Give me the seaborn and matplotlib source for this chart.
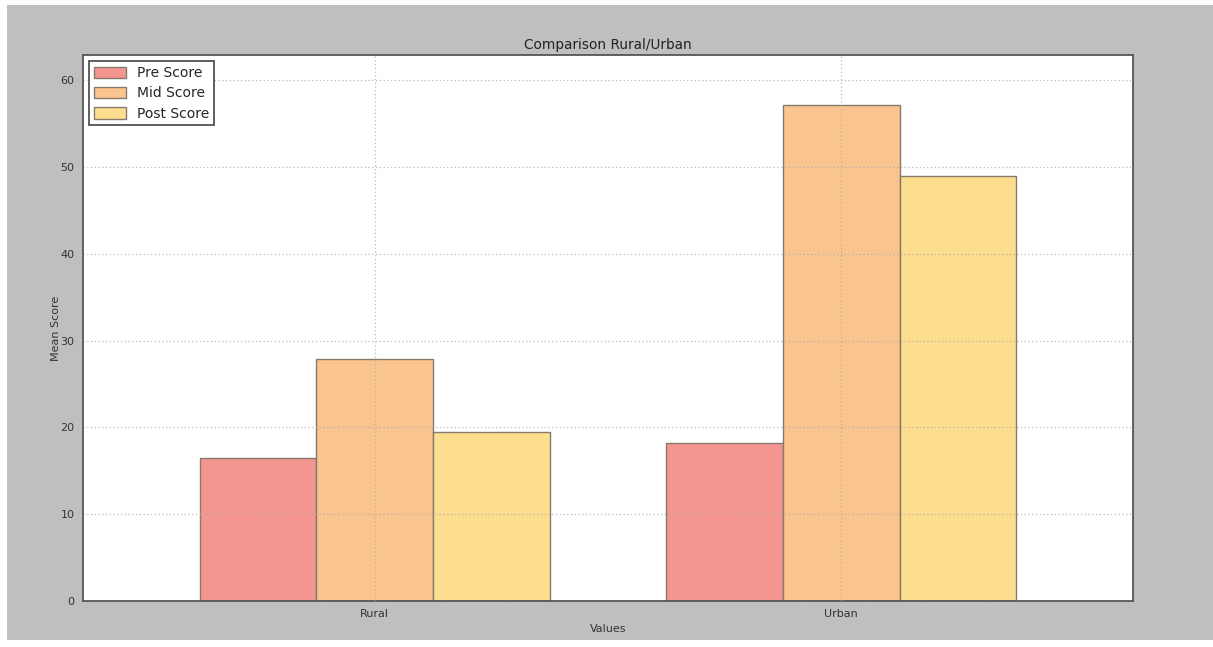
import matplotlib
matplotlib.use("Agg")
import matplotlib.pyplot as plt
import seaborn as sns
import pandas as pd
from matplotlib.patches import Rectangle

areas = ["Rural", "Urban"]
tests = ["Pre Score", "Mid Score", "Post Score"]
pre_scores = [16.5, 18.2]
mid_scores = [27.9, 57.1]
post_scores = [19.5, 49.0]
colors = ["#F4968F", "#F9C48D", "#FDDE8E"]

rows = []
for t, vals in zip(tests, [pre_scores, mid_scores, post_scores]):
    for a, v in zip(areas, vals):
        rows.append({"Area": a, "Test": t, "Score": v})
df = pd.DataFrame(rows)

sns.set_style("whitegrid")
plt.rcParams["font.family"] = ["DejaVu Sans"]

W, H = 1213, 647
fig = plt.figure(figsize=(W / 100, H / 100), dpi=100, facecolor="white")
fig.patches.append(Rectangle((7 / W, 7 / H), 1 - 7 / W, 1 - 12 / H,
                             transform=fig.transFigure, facecolor="#bfbfbf",
                             edgecolor="none", zorder=-10))
ax = fig.add_axes([83 / W, (H - 601) / H, (1133 - 83) / W, (601 - 55) / H])
ax.set_facecolor("white")

sns.barplot(data=df, x="Area", y="Score", hue="Test", palette=colors,
            width=0.75, edgecolor="#857a70", linewidth=1.0, ax=ax,
            errorbar=None, saturation=1)

ax.set_xlim(-0.625, 1.625)
ax.set_ylim(0, 62.9)
ax.set_yticks([0, 10, 20, 30, 40, 50, 60])
ax.grid(True, linestyle=(0, (1, 2)), color="#aaaaaa", linewidth=0.9)
ax.set_axisbelow(False)
for p in ax.patches:
    p.set_zorder(1)
for gl in ax.get_xgridlines() + ax.get_ygridlines():
    gl.set_zorder(2)
    gl.set_alpha(0.8)

for s in ax.spines.values():
    s.set_visible(True)
    s.set_color("#555555")
    s.set_linewidth(1.3)

ax.tick_params(axis="both", labelsize=8, colors="#333333", length=3,
               direction="out", pad=3)
ax.set_title("Comparison Rural/Urban", fontsize=9.8, color="#222222", pad=4)
ax.set_xlabel("Values", fontsize=8, color="#333333", labelpad=3)
ax.set_ylabel("Mean Score", fontsize=8, color="#333333", labelpad=0)

leg = ax.legend(loc="upper left", fontsize=10, frameon=True, fancybox=False,
                edgecolor="#444444", framealpha=1, borderaxespad=0.45,
                handlelength=2.3, handleheight=0.9, handletextpad=0.8,
                labelspacing=0.45, borderpad=0.35)
leg.get_frame().set_linewidth(1.2)
leg.set_title(None)

fig.savefig("out.png", dpi=100, facecolor=fig.get_facecolor())
